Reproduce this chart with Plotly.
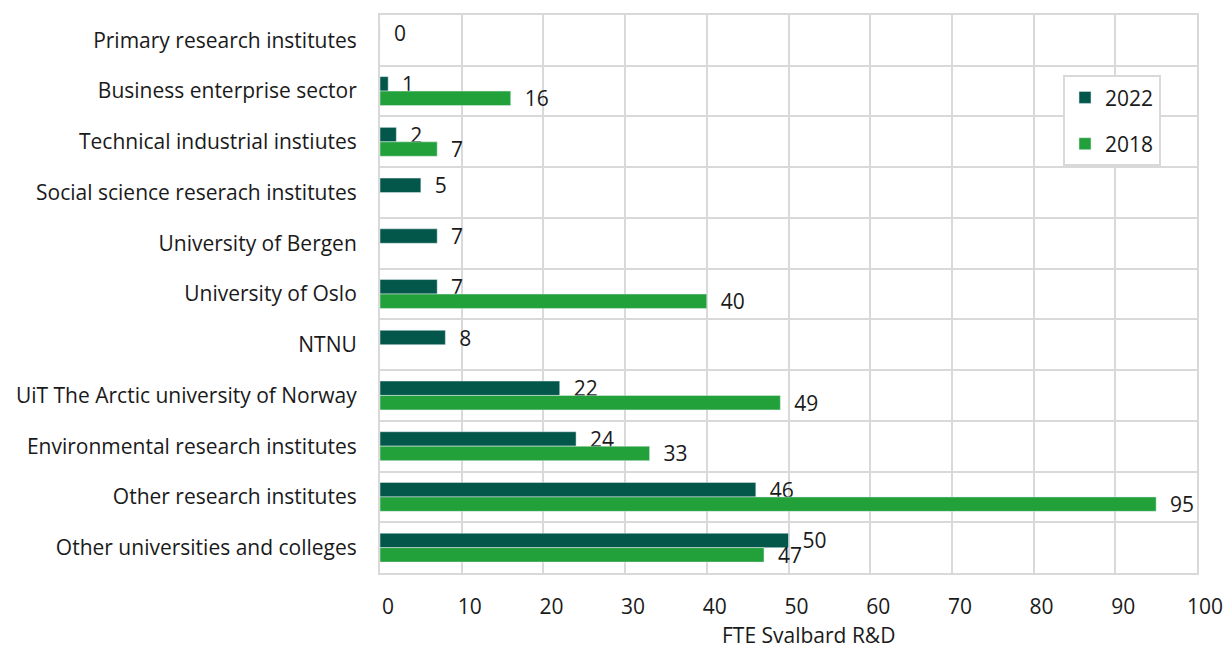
import plotly.graph_objs as go

categories = [
    'Primary research institutes',
    'Business enterprise sector',
    'Technical industrial instiutes',
    'Social science reserach institutes',
    'University of Bergen',
    'University of Oslo',
    'NTNU',
    'UiT The Arctic university of Norway',
    'Environmental research institutes',
    'Other research institutes',
    'Other universities and colleges',
]
fte_2022 = [0, 1, 2, 5, 7, 7, 8, 22, 24, 46, 50]
fte_2018 = [None, 16, 7, None, None, 40, None, 49, 33, 95, 47]

DARK = '#03574a'
LIGHT = '#22a13a'
GRID = '#d9d9d9'
FONT = 'Open Sans'
PAD = '\u00a0\u00a0'
SIZE = 21


def labels(values):
    return ['' if v is None else f'{PAD}{v}' for v in values]


fig = go.Figure()
fig.add_trace(go.Bar(
    y=categories, x=fte_2022, orientation='h', name='2022',
    marker=dict(color=DARK), text=labels(fte_2022), textposition='outside',
    constraintext='none', cliponaxis=False, legendgroup='a',
    textfont=dict(size=SIZE, color='#1a1a1a'),
))
fig.add_trace(go.Bar(
    y=categories, x=fte_2018, orientation='h', name='2018',
    marker=dict(color=LIGHT), text=labels(fte_2018), textposition='outside',
    constraintext='none', cliponaxis=False, legendgroup='b',
    textfont=dict(size=SIZE, color='#1a1a1a'),
))

fig.update_layout(
    width=1223, height=648,
    margin=dict(l=380, r=26, t=15, b=75, autoexpand=False),
    plot_bgcolor='white', paper_bgcolor='white',
    font=dict(family=FONT, size=SIZE, color='#1a1a1a'),
    barmode='group', bargap=0.43, bargroupgap=0,
    showlegend=True,
    legend=dict(
        x=0.836, y=0.892, xanchor='left', yanchor='top',
        bordercolor=GRID, borderwidth=2, bgcolor='white',
        tracegroupgap=16, font=dict(size=SIZE),
    ),
    xaxis=dict(
        range=[0, 100], dtick=10, showgrid=True, gridcolor=GRID, gridwidth=2,
        zeroline=False, showline=True, mirror=True, linecolor=GRID, linewidth=2,
        ticks='', ticklabelshift=8, ticklabelstandoff=14,
        ticklabeloverflow='allow', automargin=False,
    ),
    yaxis=dict(
        autorange='reversed', tickson='boundaries', showgrid=True,
        gridcolor=GRID, gridwidth=2, showline=True, mirror=True,
        linecolor=GRID, linewidth=2, ticks='', ticklabelstandoff=17,
        automargin=False,
    ),
    annotations=[dict(
        text='FTE Svalbard R&D', xref='paper', yref='paper',
        x=0.524, y=0, yshift=-62, xanchor='center', yanchor='middle',
        showarrow=False, font=dict(size=SIZE),
    )],
)

fig.write_html(
    'out.html',
    config={'displayModeBar': False},
    post_script="document.body.style.margin='0';document.body.style.overflow='hidden';",
)
